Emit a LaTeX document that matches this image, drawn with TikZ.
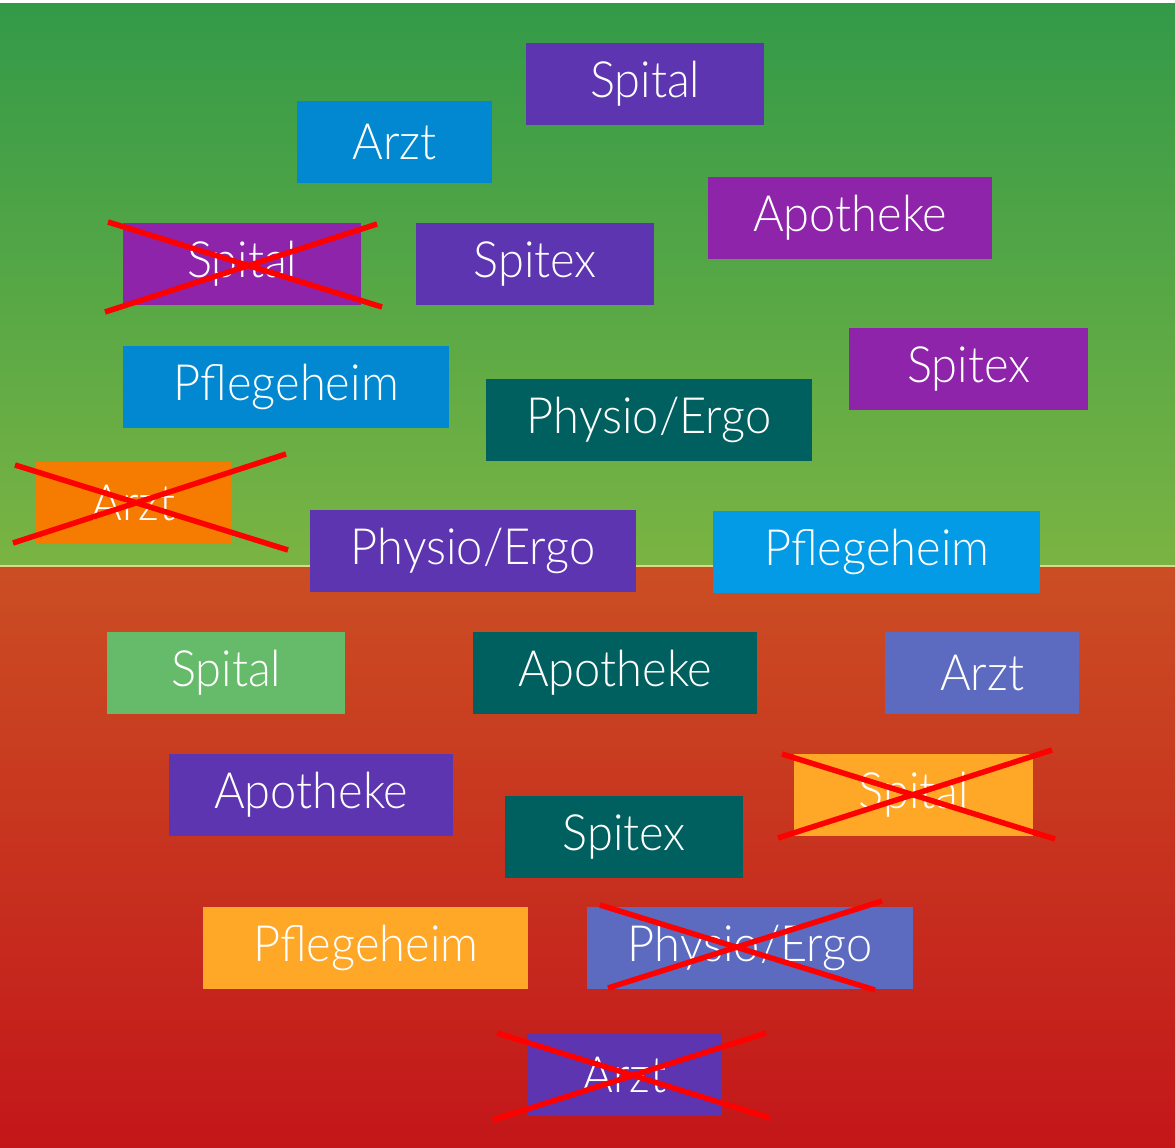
\documentclass[tikz,border=0pt]{standalone}
\usepackage{fontspec}
\setmainfont{Lato}[UprightFont={* Light}, FakeStretch=0.94]
\usetikzlibrary{calc}
\definecolor{dpurple}{HTML}{5E35B1}
\definecolor{mpurple}{HTML}{8E24AA}
\definecolor{mblue}{HTML}{0288D1}
\definecolor{lblue}{HTML}{039BE5}
\definecolor{dteal}{HTML}{00605F}
\definecolor{dorange}{HTML}{F57C00}
\definecolor{lorange}{HTML}{FFA726}
\definecolor{lgreen}{HTML}{66BB6A}
\definecolor{indigo}{HTML}{5C6BC0}
\definecolor{gtop}{HTML}{339A48}
\definecolor{gbot}{HTML}{7AB443}
\definecolor{rtop}{HTML}{CB4E23}
\definecolor{rbot}{HTML}{C3161A}
\definecolor{xred}{HTML}{FF0000}
\tikzset{
  tag/.style={fill=#1, text=white, minimum height=82pt, inner sep=0pt,
    font=\fontsize{50}{54}\selectfont, anchor=north west},
  crossline/.style={draw=xred, line width=5.5pt}
}
\begin{document}
\begin{tikzpicture}[x=1pt,y=-1pt]
\useasboundingbox (0,0) rectangle (1175,1148);
% background
\fill[white] (0,0) rectangle (1175,4);
\shade[top color=gtop, bottom color=gbot] (0,4) rectangle (1175,566);
\shade[top color=rtop, bottom color=rbot] (0,566) rectangle (1175,1148);
\draw[color={rgb,255:red,222;green,214;blue,140}, line width=1.5pt] (0,566) -- (1175,566);
% boxes
\node[tag=dpurple, minimum width=238pt] (b1) at (526,43) {Spital};
\node[tag=mblue, minimum width=195pt] (b2) at (297,101) {Arzt};
\node[tag=mpurple, minimum width=284pt] (b3) at (708,177) {Apotheke};
\node[tag=mpurple, minimum width=238pt] (b4) at (123,223) {Spital};
\node[tag=dpurple, minimum width=238pt] (b5) at (416,223) {Spitex};
\node[tag=mblue, minimum width=326pt] (b6) at (123,346) {Pflegeheim};
\node[tag=mpurple, minimum width=239pt] (b7) at (849,328) {Spitex};
\node[tag=dteal, minimum width=326pt] (b8) at (486,379) {Physio/Ergo};
\node[tag=dorange, minimum width=195pt] (b9) at (36,462) {Arzt};
\node[tag=dpurple, minimum width=326pt] (b10) at (310,510) {Physio/Ergo};
\node[tag=lblue, minimum width=327pt] (b11) at (713,511) {Pflegeheim};
\node[tag=lgreen, minimum width=238pt] (b12) at (107,632) {Spital};
\node[tag=dteal, minimum width=284pt] (b13) at (473,632) {Apotheke};
\node[tag=indigo, minimum width=194pt] (b14) at (885,632) {Arzt};
\node[tag=dpurple, minimum width=284pt] (b15) at (169,754) {Apotheke};
\node[tag=lorange, minimum width=239pt] (b16) at (794,754) {Spital};
\node[tag=dteal, minimum width=238pt] (b17) at (505,796) {Spitex};
\node[tag=lorange, minimum width=325pt] (b18) at (203,907) {Pflegeheim};
\node[tag=indigo, minimum width=326pt] (b19) at (587,907) {Physio/Ergo};
\node[tag=dpurple, minimum width=195pt] (b20) at (527,1034) {Arzt};
% crosses
\coordinate (c4a) at (108,222); \coordinate (c4b) at (382,307);
\coordinate (c4c) at (105,312); \coordinate (c4d) at (377,224);
\draw[crossline] (c4a) -- (c4b); \draw[crossline] (c4c) -- (c4d);
\coordinate (c9a) at (15,465); \coordinate (c9b) at (288,550);
\coordinate (c9c) at (13,543); \coordinate (c9d) at (286,454);
\draw[crossline] (c9a) -- (c9b); \draw[crossline] (c9c) -- (c9d);
\coordinate (c16a) at (782,754); \coordinate (c16b) at (1055,839);
\coordinate (c16c) at (778,838); \coordinate (c16d) at (1052,750);
\draw[crossline] (c16a) -- (c16b); \draw[crossline] (c16c) -- (c16d);
\coordinate (c19a) at (600,905); \coordinate (c19b) at (875,990);
\coordinate (c19c) at (608,988); \coordinate (c19d) at (882,901);
\draw[crossline] (c19a) -- (c19b); \draw[crossline] (c19c) -- (c19d);
\coordinate (c20a) at (497,1033); \coordinate (c20b) at (770,1118);
\coordinate (c20c) at (493,1120); \coordinate (c20d) at (766,1033);
\draw[crossline] (c20a) -- (c20b); \draw[crossline] (c20c) -- (c20d);
\end{tikzpicture}
\end{document}
